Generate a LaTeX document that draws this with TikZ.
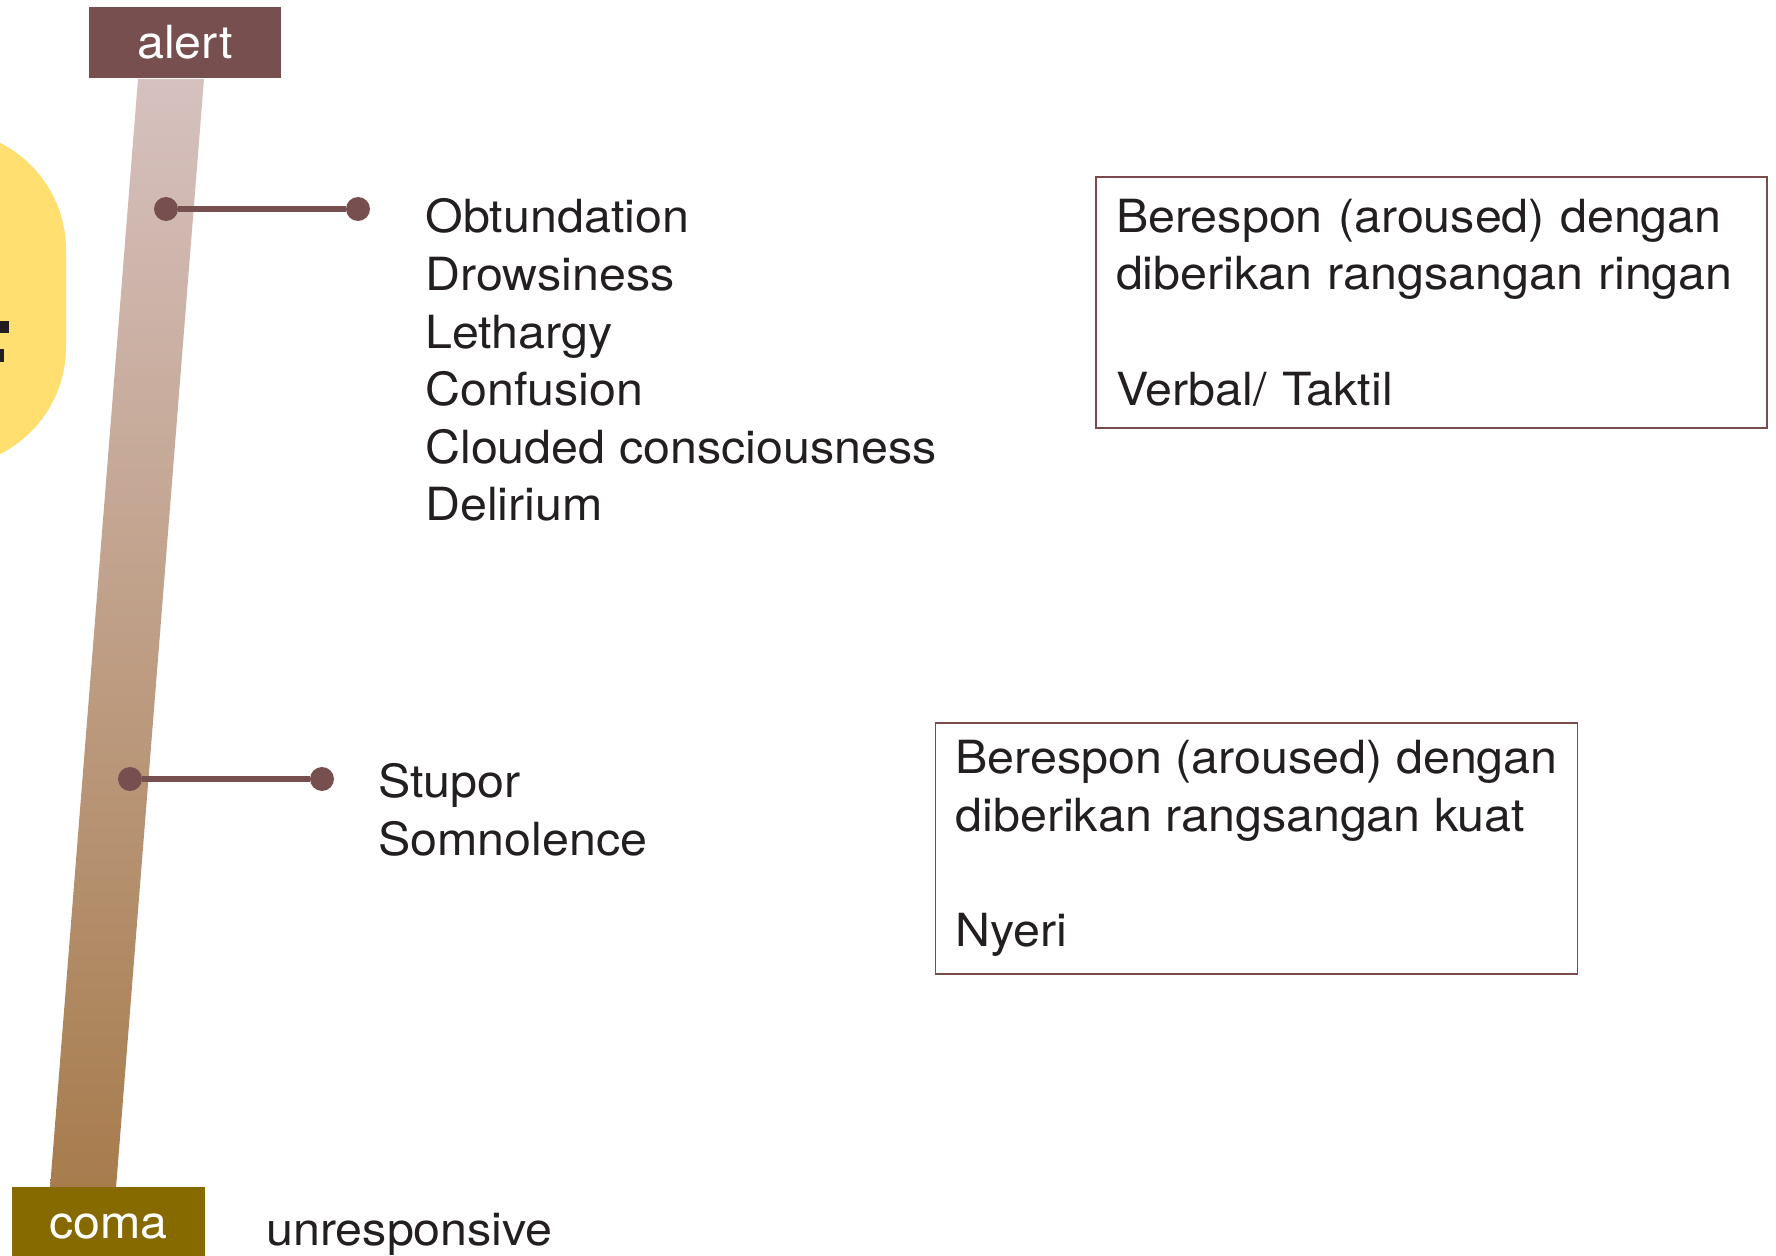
\documentclass[tikz,border=0pt]{standalone}
\usepackage{fontspec}
\setmainfont{TeX Gyre Heros}[FakeStretch=1.06]
\usetikzlibrary{calc, positioning}
\definecolor{alertbrown}{HTML}{774F4E}
\definecolor{comaolive}{HTML}{866A00}
\definecolor{bartop}{HTML}{D6C1BF}
\definecolor{barbottom}{HTML}{A77C4D}
\definecolor{padyellow}{HTML}{FEDF6F}
\definecolor{boxline}{HTML}{7B4A4A}
\definecolor{ink}{HTML}{231F20}
\tikzset{
  font=\fontsize{26}{32.8}\selectfont,
  text=ink,
  % Level tag at the ends of the bar
  tag/.style={fill=#1, text=white, inner sep=0pt, minimum height=1.42cm},
  % End dots of a level marker
  dot/.style={fill=alertbrown, shape=circle, minimum size=0.48cm, inner
    sep=0pt},
  % Level marker line
  lvl/.style={alertbrown, line width=0.12cm},
  % Plain text list (anchored at the last line)
  terms/.style={anchor=base west, align=left, inner sep=0pt},
  % Framed description
  descbox/.style={draw=boxline, line width=0.8pt, minimum height=5.02cm,
    inner xsep=0.4cm, align=left},
}
\begin{document}
\begin{tikzpicture}[x=0.02cm, y=-0.02cm]
      \useasboundingbox (0,0) rectangle (1776,1256);

      % yellow pad, cut at the left edge
      \begin{scope}
        \clip (0,0) rectangle (1776,1256);
        \fill[padyellow, rounded corners=2.4cm] (-300,130) rectangle (66,467);
        \fill[ink] (0,321) rectangle (9,333);
        \fill[ink] (0,349) rectangle (4,362);
      \end{scope}

      % the level bar
      \shade[top color=bartop, bottom color=barbottom] (138,79) -- (204,79)
      -- (116,1188) -- (50,1188) -- cycle;

      \node[tag=alertbrown, minimum width=3.84cm] (alert) at (185,42.5) {alert};
      \node[tag=comaolive, minimum width=3.86cm, text height=19pt,
      text depth=0pt] (coma) at (108.5,1222) {coma};
      \node[terms] (unresp) at (266,1245) {unresponsive};

      % first marker
      \node[dot] (obtL) at (166,209) {};
      \node[dot] (obtR) at (358,209) {};
      \draw[lvl] (obtL) -- (obtR);
      \node[terms] (mild) at (425,521) {Obtundation\\Drowsiness\\Lethargy\\Confusion\\Clouded consciousness\\Delirium};

      % second marker
      \node[dot] (stuL) at (130,779) {};
      \node[dot] (stuR) at (322,779) {};
      \draw[lvl] (stuL) -- (stuR);
      \node[terms] (deep) at (378,855) {Stupor\\Somnolence};

      \node[descbox, minimum width=13.42cm, text width=12.62cm] (ringan)
      at (1431.5,302.5) {Berespon (aroused) dengan\\diberikan rangsangan ringan\\[32.8pt]Verbal/ Taktil};
      \node[descbox, minimum width=12.82cm] (kuat)
      at (1256.5,848.5) {Berespon (aroused) dengan\\diberikan rangsangan kuat\\[32.8pt]Nyeri};
    \end{tikzpicture}
\end{document}
